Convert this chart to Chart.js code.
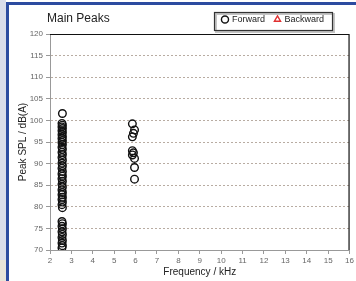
<!DOCTYPE html>
<html>
<head>
<meta charset="utf-8">
<script src="https://cdn.jsdelivr.net/npm/chart.js@4.4.1/dist/chart.umd.min.js"></script>
<style>
  body { margin: 0; width: 356px; height: 281px; background: #ffffff; position: relative; overflow: hidden; }
  #strip { position: absolute; left: 0; top: 0; width: 6px; height: 281px; background: #d9dcea; }
  #strip2 { position: absolute; left: 0; top: 260px; width: 6px; height: 21px; background: #e8e4d8; }
  #vline { position: absolute; left: 6px; top: 2px; width: 3px; height: 279px; background: #2c4ba0; }
  #hline { position: absolute; left: 6px; top: 2px; width: 350px; height: 3px; background: #2c4ba0; }
  #wrap { position: absolute; left: 9px; top: 5px; width: 347px; height: 276px; }
</style>
</head>
<body>
<div id="strip"></div>
<div id="strip2"></div>
<div id="vline"></div>
<div id="hline"></div>
<div id="wrap"><canvas id="peakChart" width="347" height="276"></canvas></div>
<script>
// forward peaks: [frequency kHz, peak SPL dB(A)]
var forwardFreq = [
    2.58, 2.56, 2.58, 2.56, 2.58, 2.56, 2.58, 2.56, 2.58, 2.56,
    2.58, 2.56, 2.58, 2.56, 2.58, 2.56, 2.58, 2.56, 2.58, 2.56,
    2.58, 2.56, 2.58, 2.56, 2.58, 2.56, 2.58, 2.56, 2.58, 2.56,
    2.58, 2.56, 2.58, 2.56, 2.58, 2.56, 2.58,
    2.56, 2.58, 2.56, 2.58, 2.56, 2.58, 2.56, 2.58, 2.56, 2.58, 2.56,
    5.85, 5.95, 5.9, 5.85, 5.85, 5.9, 5.85, 5.95, 5.95, 5.95
];
var forwardSpl = [
    101.6, 99.3, 98.9, 98.5, 98.1, 97.6, 97.2, 96.7, 96.2, 95.8,
    95.3, 94.9, 94.4, 93.8, 93.3, 92.6, 92.1, 91.4, 90.8, 90.1,
    89.5, 88.9, 88.2, 87.6, 87.1, 86.5, 85.9, 85.2, 84.6, 83.9,
    83.3, 82.8, 82.2, 81.7, 81.1, 80.5, 79.8,
    76.6, 76.1, 75.5, 74.9, 74.2, 73.6, 72.9, 72.2, 71.6, 71.0, 70.5,
    99.2, 97.8, 97.0, 96.2, 93.0, 92.5, 92.0, 91.2, 89.1, 86.4
];
var backwardFreq = [];
var backwardSpl = [];

var yTicks = [70, 75, 80, 85, 90, 95, 100, 105, 110, 115, 120];

function toPoints(xs, ys) {
    return xs.map((x, i) => ({ x: x, y: ys[i] }));
}

var frameAndTitle = {
    id: 'frameAndTitle',
    afterLayout(chart) {
        // pull the legend in from the right edge, like the original
        chart.legend.left -= 16;
        chart.legend.right -= 16;
    },
    afterDraw(chart) {
        const ctx = chart.ctx;
        const a = chart.chartArea;
        ctx.save();
        ctx.strokeStyle = '#111';
        ctx.lineWidth = 1.2;
        ctx.beginPath();
        ctx.moveTo(a.left, a.top + 0.5);
        ctx.lineTo(a.right - 0.5, a.top + 0.5);
        ctx.lineTo(a.right - 0.5, a.bottom);
        ctx.stroke();
        // box around the legend
        const bx = 205.5, by = 7.5;
        ctx.strokeStyle = '#c4c4c4';
        ctx.lineWidth = 2;
        ctx.strokeRect(bx + 1.5, by + 1.5, 118, 18);
        ctx.strokeStyle = '#333';
        ctx.lineWidth = 1.2;
        ctx.strokeRect(bx, by, 118, 18);
        // title
        ctx.fillStyle = '#222';
        ctx.font = '12px "Liberation Sans", Arial, sans-serif';
        ctx.textBaseline = 'middle';
        ctx.fillText('Main Peaks', 38, 14);
        ctx.restore();
    }
};

var ctx = document.getElementById('peakChart').getContext('2d');
var peakChart = new Chart(ctx, {
    type: 'scatter',
    data: {
        datasets: [
            {
                label: 'Forward',
                data: toPoints(forwardFreq, forwardSpl),
                pointStyle: 'circle',
                pointRadius: 3.8,
                pointBorderWidth: 1.4,
                borderColor: '#111',
                backgroundColor: 'rgba(0,0,0,0)',
            },
            {
                label: 'Backward',
                data: toPoints(backwardFreq, backwardSpl),
                pointStyle: 'triangle',
                pointRadius: 3.8,
                pointBorderWidth: 1.4,
                borderColor: '#e03030',
                backgroundColor: 'rgba(0,0,0,0)',
            },
        ],
    },
    options: {
        responsive: false,
        animation: false,
        devicePixelRatio: 1,
        layout: { padding: { top: 0, left: 0, right: 6, bottom: 3 } },
        plugins: {
            title: { display: false },
            tooltip: { enabled: false },
            legend: {
                position: 'top',
                align: 'end',
                labels: {
                    usePointStyle: true,
                    boxWidth: 5,
                    boxHeight: 5,
                    padding: 10,
                    color: '#222',
                    font: { size: 9, family: '"Liberation Sans", Arial, sans-serif' },
                },
            },
        },
        scales: {
            x: {
                type: 'linear',
                min: 2,
                max: 16,
                ticks: {
                    stepSize: 1,
                    color: '#666',
                    font: { size: 8, family: '"Liberation Sans", Arial, sans-serif' },
                    padding: 2,
                },
                grid: { display: true, drawOnChartArea: false, tickLength: 4, color: '#999' },
                border: { color: '#999' },
                title: {
                    display: true,
                    text: 'Frequency / kHz',
                    color: '#222',
                    font: { size: 10, family: '"Liberation Sans", Arial, sans-serif' },
                    padding: { top: 0, bottom: 0 },
                },
                afterFit(scale) { scale.height = 28; },
            },
            y: {
                min: 70,
                max: 120,
                afterBuildTicks(scale) { scale.ticks = yTicks.map(v => ({ value: v })); },
                ticks: {
                    color: '#666',
                    font: { size: 8, family: '"Liberation Sans", Arial, sans-serif' },
                    padding: 3,
                },
                grid: {
                    color: '#b8aca2',
                    tickColor: '#999',
                    tickLength: 4,
                },
                border: { color: '#999', dash: [2, 2] },
                title: {
                    display: true,
                    text: 'Peak SPL / dB(A)',
                    color: '#222',
                    font: { size: 10, family: '"Liberation Sans", Arial, sans-serif' },
                    padding: { top: 8, bottom: 0 },
                },
                afterFit(scale) { scale.width = 41; },
            },
        },
    },
    plugins: [frameAndTitle],
});
</script>
</body>
</html>
